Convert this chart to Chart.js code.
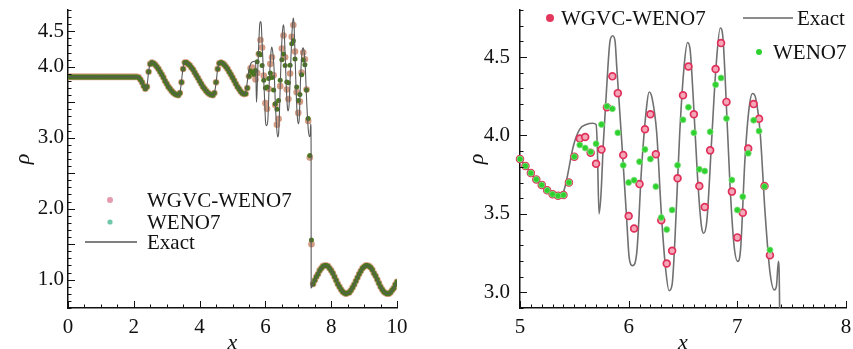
<!DOCTYPE html>
<html>
<head>
<meta charset="utf-8">
<script src="https://cdn.jsdelivr.net/npm/chart.js@4.4.1/dist/chart.umd.min.js"></script>
<style>
  html, body { margin: 0; padding: 0; background: #fff; overflow: hidden; }
  #wrap { position: relative; width: 853px; height: 349px; }
  #left { position: absolute; left: 0; top: 0; }
  #right { position: absolute; left: 430px; top: 0; }
  .preload { position: absolute; left: -999px; top: 0; font-family: 'Liberation Serif'; font-size: 21px; }
  .preload i { font-style: italic; }
</style>
</head>
<body>
<div class="preload">WGVC 0123456789 <i>x ρ</i></div>
<div id="wrap">
  <canvas id="left" width="430" height="349"></canvas>
  <canvas id="right" width="423" height="349"></canvas>
</div>
<script>
// grid spacing of the computed solutions
const dx = 0.05;

// rho for x = 0 .. 5 (both schemes coincide here)
const rhoLeft = [
  3.857, 3.857, 3.857, 3.857, 3.857, 3.857, 3.857, 3.857, 3.857, 3.857,
  3.857, 3.857, 3.857, 3.857, 3.857, 3.857, 3.857, 3.857, 3.857, 3.857,
  3.857, 3.857, 3.857, 3.857, 3.857, 3.857, 3.857, 3.857, 3.857, 3.857,
  3.857, 3.857, 3.857, 3.857, 3.857, 3.857, 3.857, 3.857, 3.857, 3.857,
  3.857, 3.857, 3.857, 3.85, 3.82, 3.78, 3.73, 3.69, 3.72, 3.93,
  4.04, 4.06, 4.05, 4.03, 4.00, 3.97, 3.93, 3.89, 3.85, 3.80,
  3.76, 3.72, 3.69, 3.66, 3.635, 3.615, 3.605, 3.60, 3.63, 3.78,
  3.97, 4.06, 4.06, 4.04, 4.02, 3.99, 3.96, 3.92, 3.88, 3.84,
  3.80, 3.76, 3.72, 3.69, 3.66, 3.635, 3.615, 3.605, 3.60, 3.63,
  3.78, 3.97, 4.05, 4.06, 4.05, 4.03, 4.00, 3.97, 3.93, 3.89,
  3.85
];

// x = 5.05 .. 7.40
const wgvcMid = [
  3.805, 3.76, 3.72, 3.685, 3.65, 3.625, 3.615, 3.62, 3.70, 3.865,
  3.98, 3.99, 3.89, 3.82, 3.91, 4.18, 4.377, 4.27, 3.875, 3.487,
  3.407, 3.69, 4.04, 4.135, 3.88, 3.46, 3.184, 3.265, 3.727, 4.256,
  4.44, 4.135, 3.678, 3.544, 3.905, 4.424, 4.589, 4.214, 3.642, 3.35,
  3.508, 3.917, 4.20, 4.106, 3.678, 3.237, 2.72, 1.50
];
const weno7Mid = [
  3.805, 3.76, 3.72, 3.685, 3.65, 3.625, 3.615, 3.62, 3.70, 3.865,
  3.94, 3.92, 3.895, 3.947, 4.07, 4.186, 4.17, 4.017, 3.81, 3.70,
  3.715, 3.833, 3.911, 3.85, 3.674, 3.477, 3.40, 3.525, 3.81, 4.10,
  4.18, 4.017, 3.784, 3.773, 4.023, 4.324, 4.367, 4.108, 3.716, 3.525,
  3.61, 3.886, 4.097, 4.028, 3.674, 3.27, 2.75, 1.56
];

// x = 7.45 .. 10 (pre-shock side)
const rhoRight = [
  0.94, 0.99, 1.04, 1.08, 1.13, 1.16, 1.19, 1.20, 1.20, 1.19,
  1.16, 1.13, 1.09, 1.04, 0.99, 0.94, 0.90, 0.86, 0.83, 0.81,
  0.80, 0.81, 0.82, 0.85, 0.89, 0.93, 0.98, 1.03, 1.08, 1.12,
  1.16, 1.18, 1.20, 1.20, 1.19, 1.17, 1.14, 1.09, 1.05, 1.00,
  0.95, 0.90, 0.86, 0.83, 0.81, 0.80, 0.80, 0.82, 0.85, 0.88,
  0.93, 0.97
];

// reference solution
const exactX = [
  0, 2.10, 2.20, 2.30, 2.36, 2.40, 2.45, 2.50, 2.55, 2.70, 2.90, 3.10, 3.25, 3.35, 3.40, 3.45,
  3.50, 3.57, 3.70, 3.90, 4.10, 4.25, 4.38, 4.45, 4.50, 4.55, 4.62, 4.75, 4.90, 5.00, 5.10,
  5.20, 5.30, 5.353, 5.40, 5.43, 5.49, 5.55, 5.61, 5.67, 5.70, 5.712, 5.727, 5.745, 5.767,
  5.80, 5.828, 5.853, 5.875, 5.89, 5.935, 5.98, 6.005, 6.035, 6.074, 6.12, 6.166, 6.188,
  6.215, 6.258, 6.30, 6.34, 6.372, 6.40, 6.426, 6.47, 6.51, 6.542, 6.565, 6.595, 6.635,
  6.67, 6.69, 6.72, 6.764, 6.804, 6.843, 6.868, 6.89, 6.933, 6.97, 7.004, 7.03, 7.07, 7.11,
  7.14, 7.168, 7.21, 7.255, 7.30, 7.34, 7.36, 7.378, 7.389, 7.391, 7.45, 7.55, 7.65, 7.75,
  7.83, 7.95, 8.05, 8.15, 8.25, 8.35, 8.46, 8.55, 8.65, 8.75, 8.85, 8.95, 9.08, 9.20, 9.30,
  9.40, 9.50, 9.60, 9.71, 9.80, 9.90, 10.0
];
const exactY = [
  3.857, 3.857, 3.82, 3.73, 3.68, 3.72, 3.93, 4.05, 4.07, 4.00, 3.85, 3.69, 3.615, 3.60, 3.63, 3.80,
  3.99, 4.07, 4.02, 3.88, 3.72, 3.635, 3.60, 3.63, 3.77, 3.97, 4.07, 4.03, 3.93, 3.852, 3.76,
  3.685, 3.62, 3.608, 3.64, 3.72, 3.93, 4.04, 4.07, 4.078, 4.07, 3.92, 3.50, 3.62, 3.953,
  4.335, 4.60, 4.636, 4.60, 4.44, 3.975, 3.487, 3.22, 3.17, 3.25, 3.805, 4.19, 4.277,
  4.24, 4.017, 3.51, 3.15, 3.01, 3.05, 3.34, 4.017, 4.44, 4.593, 4.55, 4.23, 3.72,
  3.42, 3.377, 3.46, 3.975, 4.44, 4.685, 4.62, 4.335, 3.678, 3.297, 3.197, 3.275, 3.847, 4.186,
  4.268, 4.24, 4.017, 3.51, 3.13, 3.015, 3.04, 3.197, 2.90, 0.884, 0.94, 1.04, 1.13, 1.185,
  1.20, 1.165, 1.09, 0.99, 0.90, 0.83, 0.80, 0.82, 0.89, 0.98, 1.08, 1.16, 1.20, 1.17, 1.09,
  1.00, 0.90, 0.83, 0.80, 0.82, 0.88, 0.97
];

const xTicksLeft = [0, 2, 4, 6, 8, 10];
const yTicksLeft = [1.0, 2.0, 3.0, 4.0, 4.5];
const xTicksRight = [5, 6, 7, 8];
const yTicksRight = [3.0, 3.5, 4.0, 4.5];
const names = ['WGVC-WENO7', 'WENO7', 'Exact'];

const onGrid = arr => arr.map((v, i) => ({ x: +(i * dx).toFixed(2), y: v }));
const wgvc = onGrid([...rhoLeft, ...wgvcMid, ...rhoRight]);
const weno7 = onGrid([...rhoLeft, ...weno7Mid, ...rhoRight]);
const exact = exactX.map((x, i) => ({ x, y: exactY[i] }));

const serif = "'Liberation Serif', 'DejaVu Serif', serif";

// tecplot style ticks pointing into the plot
const inTicks = {
  id: 'inTicks',
  afterDatasetsDraw(chart, args, o) {
    const { ctx, chartArea: a } = chart;
    ctx.save();
    ctx.strokeStyle = '#111';
    ctx.lineWidth = 1;
    const run = (sc, major, minor, horiz) => {
      [[minor, 3.5], [major, 7]].forEach(([step, len]) => {
        const k0 = Math.ceil(sc.min / step - 1e-6), k1 = Math.floor(sc.max / step + 1e-6);
        for (let k = k0; k <= k1; k++) {
          const p = Math.round(sc.getPixelForValue(k * step)) + 0.5;
          ctx.beginPath();
          if (horiz) { ctx.moveTo(p, a.bottom); ctx.lineTo(p, a.bottom - len); }
          else { ctx.moveTo(a.left, p); ctx.lineTo(a.left + len, p); }
          ctx.stroke();
        }
      });
    };
    run(chart.scales.x, o.xMajor, o.xMinor, true);
    run(chart.scales.y, o.yMajor, o.yMinor, false);
    ctx.restore();
  }
};

// legend placed freely inside the frame
const boxLegend = {
  id: 'boxLegend',
  afterDraw(chart, args, o) {
    const ctx = chart.ctx;
    ctx.save();
    ctx.font = '21px ' + serif;
    ctx.textBaseline = 'middle';
    o.items.forEach(it => {
      if (it.line) {
        ctx.strokeStyle = it.color; ctx.lineWidth = 1.5;
        ctx.beginPath(); ctx.moveTo(it.line[0], it.y); ctx.lineTo(it.line[1], it.y); ctx.stroke();
      } else {
        ctx.fillStyle = it.color;
        ctx.beginPath(); ctx.arc(it.mx, it.y, it.r, 0, Math.PI * 2); ctx.fill();
      }
      ctx.fillStyle = '#111';
      ctx.fillText(chart.data.datasets[it.ds].label, it.tx, it.y + 1);
    });
    ctx.restore();
  }
};

function scales(xr, yr, xt, yt, yWidth, yTitlePad, yPad) {
  return {
    x: {
      type: 'linear', min: xr[0], max: xr[1],
      afterBuildTicks: s => { s.ticks = xt.map(v => ({ value: v })); },
      afterFit: s => { s.height = 41; s.paddingLeft = 0; s.paddingRight = 0; },
      grid: { display: false, drawTicks: false },
      border: { display: true, color: '#111', width: 1.5 },
      ticks: { font: { family: serif, size: 21 }, color: '#111', padding: 7, maxRotation: 0, autoSkip: false },
      title: { display: true, text: 'x', color: '#111', font: { family: serif, size: 22, style: 'italic', lineHeight: 0.5 }, padding: 0 }
    },
    y: {
      type: 'linear', min: yr[0], max: yr[1],
      afterBuildTicks: s => { s.ticks = yt.map(v => ({ value: v })); },
      afterFit: s => { s.width = yWidth; s.paddingTop = 0; s.paddingBottom = 0; },
      grid: { display: false, drawTicks: false },
      border: { display: true, color: '#111', width: 1.5 },
      ticks: { font: { family: serif, size: 21 }, color: '#111', padding: yPad, autoSkip: false, callback: v => v.toFixed(1) },
      title: { display: true, text: 'ρ', color: '#111', font: { family: serif, size: 22, style: 'italic' }, padding: { top: yTitlePad, bottom: 0 } }
    }
  };
}

const common = {
  responsive: false,
  animation: false,
  events: [],
  plugins: { legend: { display: false }, tooltip: { enabled: false } }
};

const charts = [];

// full domain
charts.push(new Chart(document.getElementById('left'), {
  type: 'scatter',
  data: {
    datasets: [
      { label: names[0], data: wgvc, order: 2, pointRadius: 3.3, backgroundColor: '#d49c84', borderWidth: 0 },
      { label: names[1], data: weno7, order: 1, pointRadius: 2.5, backgroundColor: '#4a761f', borderWidth: 0 },
      { label: names[2], data: exact, order: 0, showLine: true, pointRadius: 0, borderColor: '#5a5a5a', borderWidth: 1.1, cubicInterpolationMode: 'monotone' }
    ]
  },
  options: {
    ...common,
    layout: { padding: { left: 0, right: 33, top: 10, bottom: 0 } },
    scales: scales([0, 10], [0.6, 4.8], xTicksLeft, yTicksLeft, 68, 10, 4),
    plugins: {
      ...common.plugins,
      inTicks: { xMajor: 2, xMinor: 0.5, yMajor: 0.5, yMinor: 0.1 },
      boxLegend: { items: [
        { ds: 0, mx: 110, y: 200, r: 3, color: '#e39aae', tx: 147 },
        { ds: 1, mx: 110, y: 222, r: 2.6, color: '#6fc9a9', tx: 147 },
        { ds: 2, line: [85, 137], y: 242, color: '#555', tx: 147 }
      ] }
    }
  },
  plugins: [inTicks, boxLegend]
}));

// zoom on the high-frequency region
const inView = p => p.x >= 4.999;
charts.push(new Chart(document.getElementById('right'), {
  type: 'scatter',
  data: {
    datasets: [
      { label: names[0], data: wgvc.filter(inView), order: 1, pointRadius: 3.4, backgroundColor: '#f4a7b8', borderColor: '#e0305a', borderWidth: 1.7, clip: { left: 8, top: 8, right: 8, bottom: 0 } },
      { label: names[1], data: weno7.filter(inView), order: 0, pointRadius: 3, backgroundColor: '#2ed12e', borderColor: '#7ee07e', borderWidth: 0.8, clip: { left: 8, top: 8, right: 8, bottom: 0 } },
      { label: names[2], data: exact, order: 2, showLine: true, pointRadius: 0, borderColor: '#707070', borderWidth: 1.6, cubicInterpolationMode: 'monotone' }
    ]
  },
  options: {
    ...common,
    layout: { padding: { left: 0, right: 7, top: 10, bottom: 0 } },
    scales: scales([5, 8], [2.9, 4.8], xTicksRight, yTicksRight, 90, 34, 10),
    plugins: {
      ...common.plugins,
      inTicks: { xMajor: 1, xMinor: 0.1, yMajor: 0.5, yMinor: 0.1 },
      boxLegend: { items: [
        { ds: 0, mx: 120, y: 18, r: 4, color: '#e2385e', tx: 131 },
        { ds: 2, line: [313, 363], y: 18, color: '#666', tx: 367 },
        { ds: 1, mx: 329, y: 52, r: 3, color: '#2ed12e', tx: 343 }
      ] }
    }
  },
  plugins: [inTicks, boxLegend]
}));

// redraw once the serif face is surely available
if (document.fonts) {
  Promise.all([
    document.fonts.load("21px 'Liberation Serif'"),
    document.fonts.load("italic 22px 'Liberation Serif'")
  ]).then(() => charts.forEach(c => c.update()));
}
</script>
</body>
</html>
